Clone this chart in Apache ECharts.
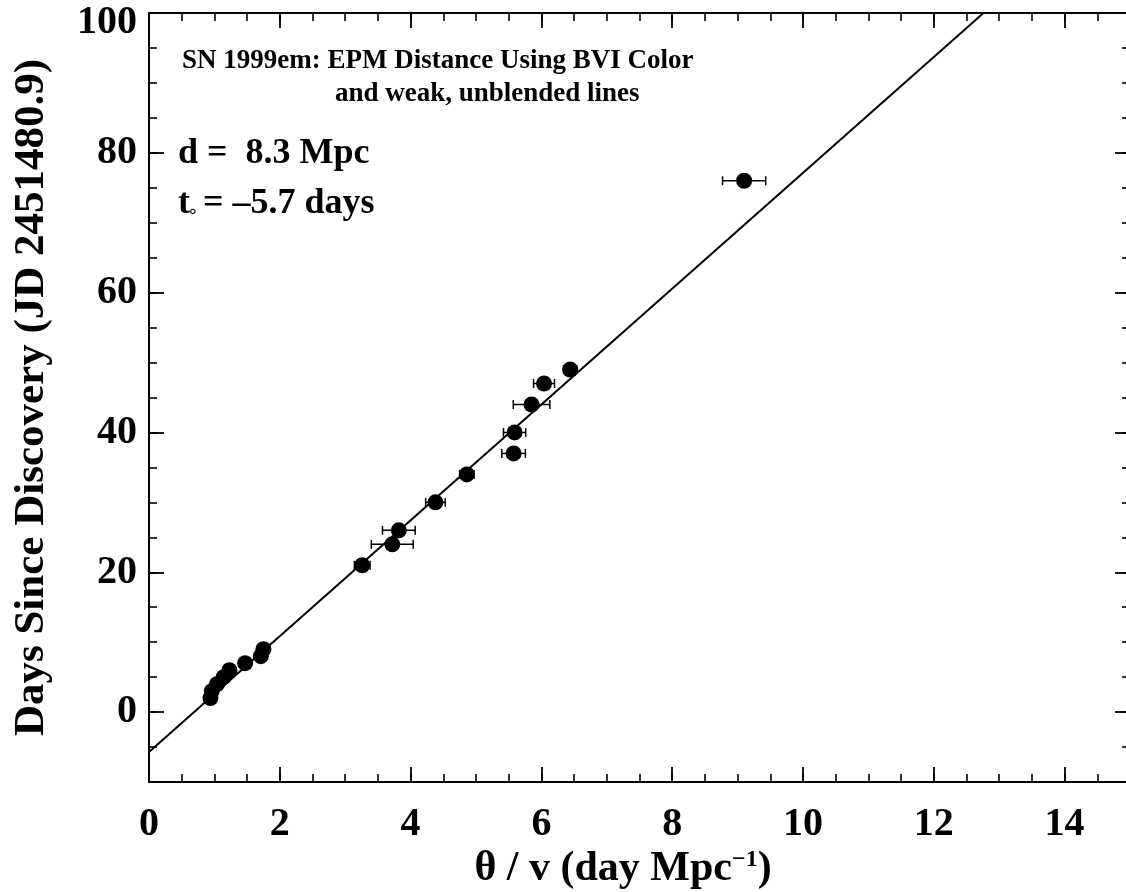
<!DOCTYPE html>
<html><head><meta charset="utf-8">
<script src="https://cdn.jsdelivr.net/npm/echarts@6/dist/echarts.min.js"></script>
<style>html,body{margin:0;padding:0;background:#fff}#c{width:1126px;height:892px}</style>
</head><body><div id="c"></div>
<script>
// theta / v (day Mpc^-1)
const thetaOverV = [0.94, 0.96, 1.04, 1.14, 1.23, 1.47, 1.71, 1.75, 3.26, 3.72, 3.82, 4.38, 4.86, 5.575, 5.59, 5.85, 6.04, 6.44, 9.1];
// days since discovery
const daysSince = [2, 3, 4, 5, 6, 7, 8, 9, 21, 24, 26, 30, 34, 37, 40, 44, 47, 49, 76];
// horizontal error on theta / v
const thetaErr = [0.04, 0.04, 0.04, 0.04, 0.05, 0.05, 0.06, 0.06, 0.12, 0.32, 0.25, 0.15, 0.11, 0.18, 0.17, 0.28, 0.16, 0.1, 0.33];
// EPM fit: d = 8.3 Mpc, t0 = -5.7 days (end points of the fitted line)
const fitLine = [[0, -5.7], [12.76, 100]];
const xMajorTicks = [0, 2, 4, 6, 8, 10, 12, 14];
const yMajorTicks = [0, 20, 40, 60, 80, 100];
const titleLine1 = 'SN 1999em: EPM Distance Using BVI Color';
const titleLine2 = 'and weak, unblended lines';
const distText = 'd =  8.3 Mpc';
const t0Text = '= \u20135.7 days';

const FAM = '"Liberation Serif", "Times New Roman", serif';
const chart = echarts.init(document.getElementById('c'));

const pts = thetaOverV.map((x, i) => [x, daysSince[i]]);
const errData = thetaOverV.map((x, i) => [x, daysSince[i], thetaErr[i]]);

const minorTick = {show: true, inside: true, length: 8, lineStyle: {color: '#000', width: 1.6}};
const majorTick = {show: true, inside: true, length: 15, lineStyle: {color: '#000', width: 1.8}};
const axLine = {show: true, onZero: false, lineStyle: {color: '#000', width: 2}};
const noLine = {show: false, onZero: false};
const tickFont = {color: '#000', fontFamily: FAM, fontWeight: 'bold', fontSize: 40};

chart.setOption({
  animation: false,
  backgroundColor: '#fff',
  grid: {left: 149, top: 13, width: 981, height: 769, containLabel: false, outerBoundsMode: 'none'},
  xAxis: [
    {type: 'value', position: 'bottom', min: 0, max: 15, interval: 0.5,
     axisLine: axLine, axisTick: minorTick, axisLabel: {show: false}, splitLine: {show: false}},
    {type: 'value', position: 'bottom', min: 0, max: 15, interval: 2,
     axisLine: noLine, axisTick: Object.assign({customValues: xMajorTicks}, majorTick),
     axisLabel: Object.assign({show: true, margin: 23, customValues: xMajorTicks}, tickFont),
     splitLine: {show: false}},
    {type: 'value', position: 'top', min: 0, max: 15, interval: 0.5,
     axisLine: axLine, axisTick: minorTick, axisLabel: {show: false}, splitLine: {show: false}},
    {type: 'value', position: 'top', min: 0, max: 15, interval: 2,
     axisLine: noLine, axisTick: Object.assign({customValues: xMajorTicks}, majorTick),
     axisLabel: {show: false}, splitLine: {show: false}}
  ],
  yAxis: [
    {type: 'value', position: 'left', min: -10, max: 100, interval: 5,
     axisLine: axLine, axisTick: minorTick, axisLabel: {show: false}, splitLine: {show: false}},
    {type: 'value', position: 'left', min: -10, max: 100,
     axisLine: noLine, axisTick: Object.assign({customValues: yMajorTicks}, majorTick),
     axisLabel: Object.assign({show: true, margin: 12, customValues: yMajorTicks,
       lineHeight: 20, verticalAlignMaxLabel: 'top'}, tickFont),
     splitLine: {show: false},
     name: 'Days Since Discovery (JD 2451480.9)', nameLocation: 'middle', nameGap: 96, nameRotate: 90,
     nameTextStyle: {color: '#000', fontFamily: FAM, fontWeight: 'bold', fontSize: 43}},
    {type: 'value', position: 'right', min: -10, max: 100, interval: 5,
     axisLine: axLine, axisTick: minorTick, axisLabel: {show: false}, splitLine: {show: false}},
    {type: 'value', position: 'right', min: -10, max: 100,
     axisLine: noLine, axisTick: Object.assign({customValues: yMajorTicks}, majorTick),
     axisLabel: {show: false}, splitLine: {show: false}}
  ],
  series: [
    {type: 'line', data: fitLine, showSymbol: false, symbol: 'none', clip: true,
     lineStyle: {color: '#000', width: 2}, z: 1, silent: true},
    {type: 'custom', data: errData, z: 2, silent: true,
     renderItem: function (params, api) {
       const x = api.value(0), y = api.value(1), e = api.value(2);
       const a = api.coord([x - e, y]);
       const b = api.coord([x + e, y]);
       const h = 4.5;
       const st = {stroke: '#000', lineWidth: 1.5};
       return {type: 'group', children: [
         {type: 'line', shape: {x1: a[0], y1: a[1], x2: b[0], y2: b[1]}, style: st},
         {type: 'line', shape: {x1: a[0], y1: a[1] - h, x2: a[0], y2: a[1] + h}, style: st},
         {type: 'line', shape: {x1: b[0], y1: b[1] - h, x2: b[0], y2: b[1] + h}, style: st}
       ]};
     }},
    {type: 'scatter', data: pts, symbol: 'circle', symbolSize: 16,
     itemStyle: {color: '#000', opacity: 1}, z: 3, silent: true}
  ],
  graphic: [
    {type: 'text', x: 182, y: 61, style: {text: titleLine1, fill: '#000', fontFamily: FAM, fontWeight: 'bold', fontSize: 27, verticalAlign: 'middle'}},
    {type: 'text', x: 335, y: 94, style: {text: titleLine2, fill: '#000', fontFamily: FAM, fontWeight: 'bold', fontSize: 27, verticalAlign: 'middle'}},
    {type: 'text', x: 178, y: 154, style: {text: distText, fill: '#000', fontFamily: FAM, fontWeight: 'bold', fontSize: 36, verticalAlign: 'middle'}},
    {type: 'text', x: 178, y: 204, style: {text: 't', fill: '#000', fontFamily: FAM, fontWeight: 'bold', fontSize: 36, verticalAlign: 'middle'}},
    {type: 'text', x: 193, y: 212, style: {text: '\u2218', fill: '#000', fontFamily: '"DejaVu Sans"', fontSize: 18, align: 'center', verticalAlign: 'middle'}},
    {type: 'text', x: 203, y: 204, style: {text: t0Text, fill: '#000', fontFamily: FAM, fontWeight: 'bold', fontSize: 36, verticalAlign: 'middle'}},
    {type: 'text', x: 623, y: 869, style: {
      text: '{n|\u03b8 / v (day Mpc}{s|\u22121}{n|)}',
      align: 'center', verticalAlign: 'middle', fill: '#000',
      rich: {
        n: {fontFamily: FAM, fontWeight: 'bold', fontSize: 42, fill: '#000', lineHeight: 42},
        s: {fontFamily: FAM, fontWeight: 'bold', fontSize: 24, fill: '#000', lineHeight: 24, verticalAlign: 'top'}
      }}}
  ]
});
</script>
</body></html>
